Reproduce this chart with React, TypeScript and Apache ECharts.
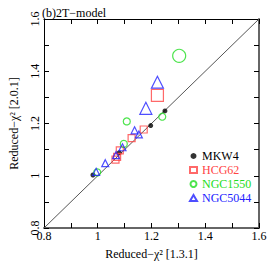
import React, { useEffect, useRef } from "react";
import * as echarts from "echarts";

const seriesNames = ["MKW4", "HCG62", "NGC1550", "NGC5044"];
const seriesColors = ["#000000", "#ff4444", "#22dd22", "#2222ff"];
const seriesSymbols = ["circle", "rect", "circle", "triangle"];

// [x (1.3.1), y (2.0.1), marker size]
const mkw4 = [
  [0.982, 1.003, 5],
  [1.08, 1.088, 5],
  [1.197, 1.192, 5],
  [1.25, 1.248, 5],
];
const hcg62 = [
  [1.222, 1.308, 12],
  [1.171, 1.177, 7],
  [1.126, 1.144, 7],
  [1.082, 1.097, 7],
  [1.072, 1.072, 7],
  [1.066, 1.062, 7],
];
const ngc1550 = [
  [1.303, 1.459, 13],
  [1.108, 1.208, 7],
  [1.24, 1.226, 7],
  [1.097, 1.122, 7],
  [0.998, 1.013, 7],
];
const ngc5044 = [
  [1.222, 1.358, 12],
  [1.179, 1.258, 12],
  [1.137, 1.174, 7],
  [1.153, 1.158, 7],
  [1.092, 1.109, 7],
  [1.068, 1.079, 7],
  [1.028, 1.048, 7],
  [0.994, 1.015, 7],
];
const diagonal = [
  [0.8, 0.8],
  [1.6, 1.6],
];

const allData = [mkw4, hcg62, ngc1550, ngc5044];
const FONT = "Liberation Serif";

export default function App() {
  const ref = useRef<HTMLDivElement>(null);
  useEffect(() => {
    document.body.style.margin = "0";
    const chart = echarts.init(ref.current!, null, { renderer: "svg" });
    const fmt = (v: number) => {
      const t = Math.round(v * 10);
      if (t % 2 !== 0) return "";
      return String(Math.round(v * 10) / 10);
    };
    const axisCommon = {
      min: 0.8,
      max: 1.6,
      interval: 0.1,
      splitLine: { show: false },
      axisTick: { show: true, inside: true, length: 5, lineStyle: { color: "#000", width: 1 } },
    };
    const scatterSeries = allData.map((d, i) => ({
      type: "scatter",
      name: seriesNames[i],
      data: d,
      symbol: seriesSymbols[i],
      symbolSize: (v: number[]) => v[2],
      itemStyle:
        i === 0
          ? { color: seriesColors[i] }
          : { color: "rgba(0,0,0,0)", borderColor: seriesColors[i], borderWidth: 1.2 },
      z: 3,
    }));
    chart.setOption({
      animation: false,
      backgroundColor: "#fff",
      textStyle: { fontFamily: FONT },
      title: {
        text: "(b)2T\u2212model",
        left: 37,
        top: 2,
        textStyle: { fontFamily: FONT, fontSize: 12, fontWeight: "normal", color: "#000" },
      },
      grid: { left: 39, right: 15, top: 19, bottom: 28 },
      legend: {
        orient: "vertical",
        left: 184,
        top: 145,
        itemGap: 2,
        itemWidth: 7,
        itemHeight: 6,
        textStyle: { fontFamily: FONT, fontSize: 12, lineHeight: 12, padding: [0, 0, 0, 0] },
        data: seriesNames.map((n, i) => ({
          name: n,
          textStyle: { color: seriesColors[i] },
        })),
      },
      xAxis: [
        {
          ...axisCommon,
          type: "value",
          position: "bottom",
          name: "Reduced\u2212\u03c7\u00b2 [1.3.1]",
          nameLocation: "middle",
          nameGap: 20,
          nameTextStyle: { fontFamily: FONT, fontSize: 12, color: "#000" },
          axisLine: { lineStyle: { color: "#666", width: 2 } },
          axisLabel: { formatter: fmt, color: "#000", fontFamily: FONT, fontSize: 12, margin: 2 },
        },
        {
          ...axisCommon,
          type: "value",
          position: "top",
          axisLine: { lineStyle: { color: "#000", width: 1 } },
          axisLabel: { show: false },
        },
      ],
      yAxis: [
        {
          ...axisCommon,
          type: "value",
          position: "left",
          name: "Reduced\u2212\u03c7\u00b2 [2.0.1]",
          nameLocation: "middle",
          nameGap: 24,
          nameTextStyle: { fontFamily: FONT, fontSize: 12, color: "#000" },
          axisLine: { lineStyle: { color: "#000", width: 1 } },
          axisLabel: { formatter: fmt, color: "#000", fontFamily: FONT, fontSize: 12, rotate: 90, margin: 3 },
        },
        {
          ...axisCommon,
          type: "value",
          position: "right",
          axisLine: { lineStyle: { color: "#666", width: 2 } },
          axisLabel: { show: false },
        },
      ],
      series: [
        {
          type: "line",
          name: "diag",
          data: diagonal,
          showSymbol: false,
          symbol: "none",
          lineStyle: { color: "#555", width: 1 },
          z: 2,
          silent: true,
        },
        ...scatterSeries,
      ],
    });
    return () => chart.dispose();
  }, []);
  return <div ref={ref} style={{ width: 274, height: 265 }} />;
}
